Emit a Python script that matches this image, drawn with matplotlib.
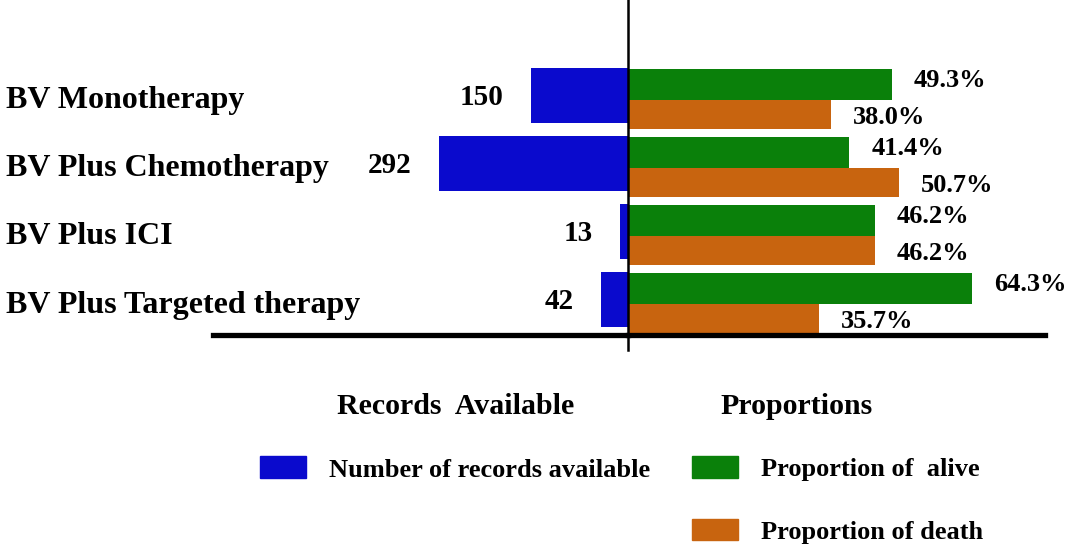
import numpy as np
import matplotlib
matplotlib.use("Agg")
import matplotlib.pyplot as plt
from matplotlib.patches import Patch

plt.rcParams['font.family'] = ['Liberation Serif', 'DejaVu Serif']
plt.rcParams['font.weight'] = 'bold'

# data
therapies = ["BV Monotherapy", "BV Plus Chemotherapy", "BV Plus ICI", "BV Plus Targeted therapy"]
records = [150, 292, 13, 42]
alive_pct = [49.3, 41.4, 46.2, 64.3]
death_pct = [38.0, 50.7, 46.2, 35.7]

blue = "#0a0acd"
green = "#0a800a"
orange = "#c8640f"

W, H = 1065, 545
fig = plt.figure(figsize=(W / 100, H / 100), dpi=100)

def fig_rect(x0, y0, x1, y1):
    # pixel box (top-left origin) -> figure fraction
    return [x0 / W, 1 - y1 / H, (x1 - x0) / W, (y1 - y0) / H]

ax_l = fig.add_axes(fig_rect(213, 30, 628, 335))
ax_r = fig.add_axes(fig_rect(628, 30, 1045, 335), sharey=ax_l)

y = np.arange(len(therapies))
blue_h = 0.81
green_h = 0.46
orange_h = 0.42

ax_l.barh(y, records, height=blue_h, color=blue)
ax_l.set_xlim(640, 0)
ax_l.set_ylim(3.52, -0.96)

top = y - blue_h / 2 + 0.015
ax_r.barh(top, alive_pct, height=green_h, align='edge', color=green)
ax_r.barh(top + green_h, death_pct, height=orange_h, align='edge', color=orange)
ax_r.set_xlim(0, 78)

for ax in (ax_l, ax_r):
    for s in ("top", "left", "right"):
        ax.spines[s].set_visible(False)
    ax.spines["bottom"].set_linewidth(3.8)
    ax.spines["bottom"].set_color("black")
    ax.set_xticks([])
    ax.tick_params(left=False, labelleft=False)

# category names
for yi, name in zip(y, therapies):
    ax_l.text(-0.50, yi + 0.08, name, transform=ax_l.get_yaxis_transform(),
              ha='left', va='center', fontsize=23, fontweight='bold')

# record counts
for yi, v in zip(y, records):
    ax_l.annotate(str(v), xy=(v, yi), xytext=(-27, -2), textcoords='offset pixels',
                  ha='right', va='center', fontsize=21, fontweight='bold')

# percentages
for yi, a, d in zip(top, alive_pct, death_pct):
    ax_r.annotate(f"{a:.1f}%", xy=(a, yi + green_h / 2), xytext=(22, 4), textcoords='offset pixels',
                  ha='left', va='center', fontsize=19, fontweight='bold')
    ax_r.annotate(f"{d:.1f}%", xy=(d, yi + green_h + orange_h / 2), xytext=(22, -3), textcoords='offset pixels',
                  ha='left', va='center', fontsize=19, fontweight='bold')

# center vertical line
fig.add_artist(plt.Line2D([628 / W, 628 / W], [1, 1 - 350 / H], transform=fig.transFigure,
                          color='black', lw=1.8))

# headers
fig.text(337 / W, 1 - 406 / H, "Records  Available", ha='left', va='center', fontsize=21.5, fontweight='bold')
fig.text(720 / W, 1 - 406 / H, "Proportions", ha='left', va='center', fontsize=21.5, fontweight='bold')

leg_kw = dict(frameon=False, handlelength=1.75, handleheight=0.9,
              handletextpad=0.85, borderpad=0, borderaxespad=0, labelspacing=1.42,
              prop={'weight': 'bold', 'size': 19})
fig.legend(handles=[Patch(color=blue, label="Number of records available")],
           loc='center left', bbox_to_anchor=(260 / W, 1 - 469 / H), **leg_kw)
fig.legend(handles=[Patch(color=green, label="Proportion of  alive"),
                    Patch(color=orange, label="Proportion of death")],
           loc='upper left', bbox_to_anchor=(692 / W, 1 - 456 / H), **leg_kw)

fig.savefig("out.png", dpi=100)
